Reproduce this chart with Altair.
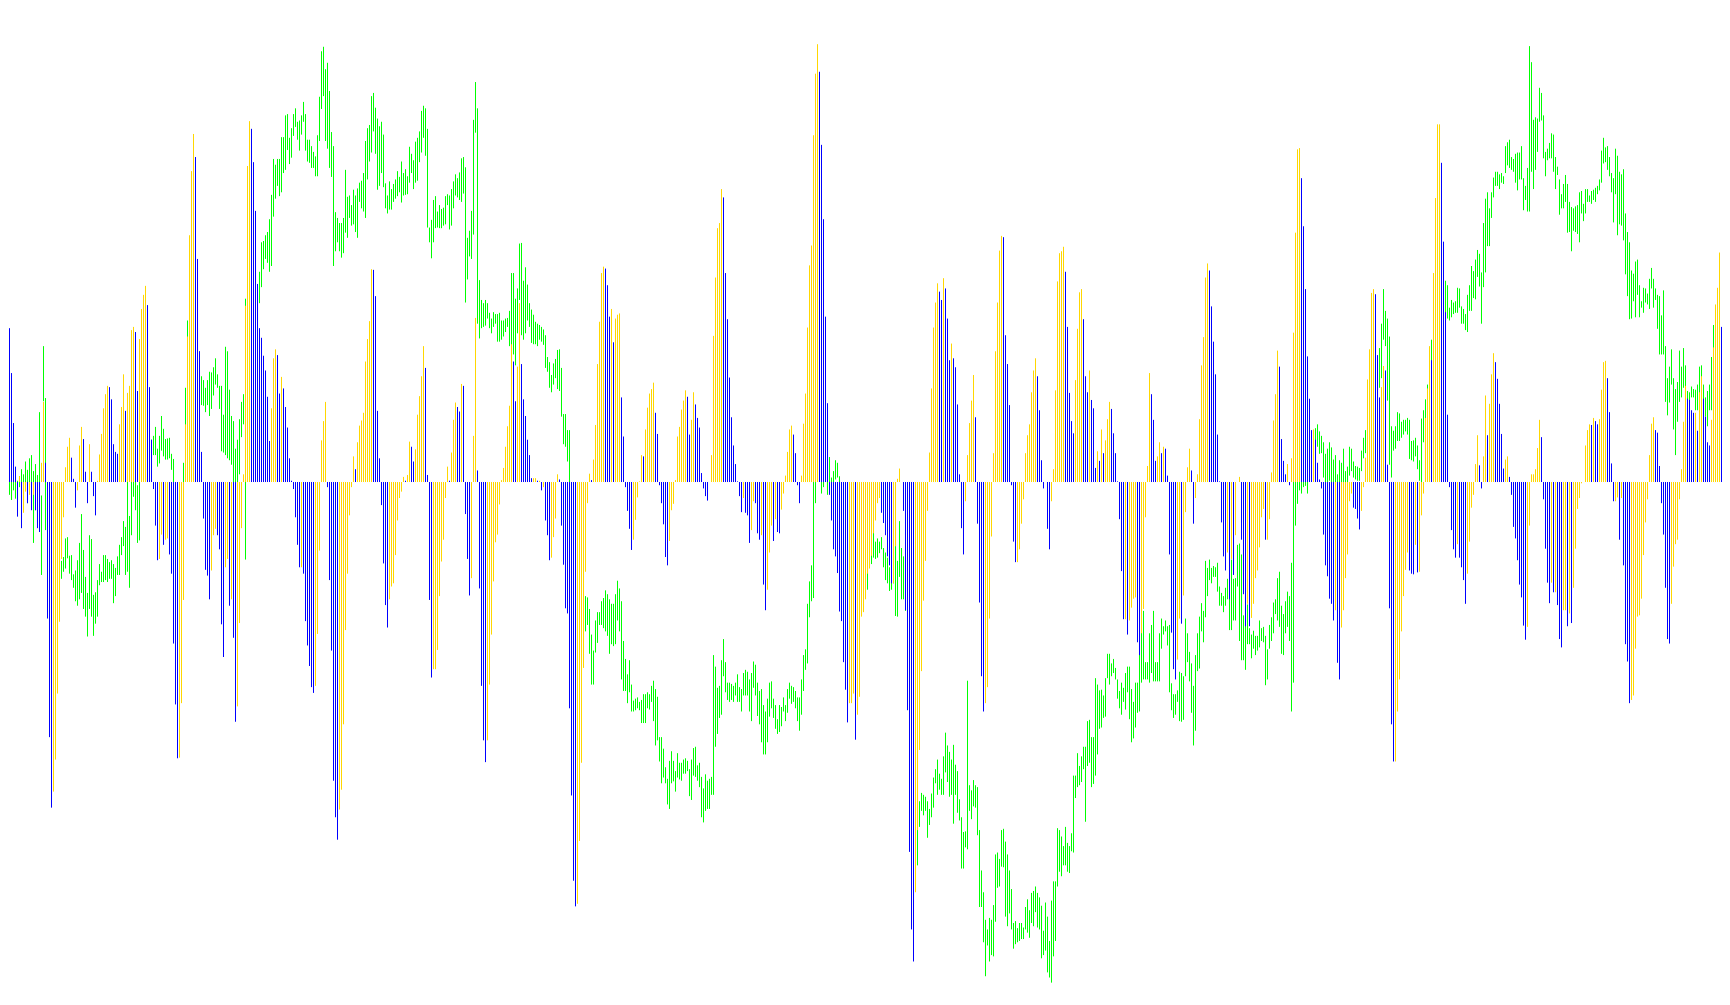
import altair as alt
import pandas as pd

# Oscillator histogram, signed, one value per session (three runs of sessions)
HIST_A = [385,387,385,342,240,170,92,24,-54,9,-72,-48,-15,-33,-20,-44,-20,-44,-72,-78,30,125,30,
-213,-398,-508,-483,-433,-330,-218,-120,-55,23,55,69,38,5,-40,-13,57,86,67,16,-33,59,16,-22,-52,2,43,75,115,137,150,148,129,59,47,44,90,117,168,111,139,150,237,242,234,142,223,270,292,306,276,148,66,-11,-68,-122,-120,-82,-98,-90,-88,-113,-143,-252,-347,-431,-430,-345,-184,90,227,385,485,543,507,348,204,47,-57,-137,-146,-183,-138,-83,-73,-83,-105,-222,-273,-133,-120,-193,-183,-243,-374,-350,-220,-72,12,275,493,563,551,499,423,309,240,225,197,174,133,64,115,193,207,198,138,164,146,117,85,37,2,-11,-55,-98,-133,-133,-143,-217,-255,-287,-320,-329,-318,-237,-107,65,95,125,-8,-153,-263,-466,-523,-558,-511,-480,-378,-231,-143,-52,-8,40,20,62,88,96,108,188,223,251,332,331,290,111,37,-36,-127,-192,-227,-183,-163,-158,-114,-60,-25,-15,8,2,11,63,55,32,51,105,134,165,212,178,11,-184,-305,-292,-292,-262,-178,-124,-90,-25,24,2,46,97,124,117,110,153,150,-50,-120,-177,-150,72,256,18,-166,-318,-403,-437,-403,-316,-238,-155,-94,-82,-35,3,22,55,87,119,215,188,126,180,279,184,129,103,66,42,6,6,6,2,2,-13,-8,-60,-83,-122,-118,-86,-57,12,4,-68,-129,-197,-205,-353,-489,-622,-662,-658,-560]
HIST_B = [-438,-290,-140,-33,13,3,35,89,184,250,326,336,333,307,258,270,218,255,261,263,132,71,-8,-45,-73,-106,-90,-59,-24,1,42,40,82,116,138,145,155,108,75,-5,-33,-66,-117,-130,-92,-44,-34,3,71,86,113,127,143,133,74,97,140,121,100,85,14,-10,-22,-29,0,42,228,319,396,404,457,444,326,254,163,101,57,28,1,-22,-47,-25,-48,-52,-95,-75,-30,-33,-80,-90,-83,-160,-200,-168,-110,-68,-92,-58,-78,-80,-43,-18,10,47,82,88,74,45,-5,-33,10,91,138,241,338,369,541,637,683,640,526,410,258,123,-20,-60,-105,-116,-142,-202,-217,-281,-324,-375,-345,-345,-330,-402,-363,-335,-210,-203,-183,-143,-135,-115,-80,-60,-33,-25,-48,-64,-83,-116,-130,-158,-158,-100,5,21,0,-45,-200,-356,-577,-698,-748,-640,-543,-418,-295,-185,-123,-45,46,146,241,280,310,297,284,318,302,255,190,216,193,179,121,12,-72,-113,-30,42,92,127,167,101,-65,-188,-303,-358,-345,-320,-213,-85,45,204,280,361,384,382,229,184,120,-5,-93,-125,-125,-105,-65,-27,45,73,90,140,174,193,165,112,34,-10,0,-73,-105,-30,20,143,313,357,360,367,328,242,139,95,76,159,239,296,301,254,165,140,174,128,115,22,48,33,82,45,65,98,125,114,76,45,1,-58,-139,-214,-214,-238,-216,-196,-182,-180,-250,-270,-236,-198,-55,25,170,137,97,33,40,62]
HIST_C = [45,55,52,10,-113,-235,-292,-308,-277,-213,-221,-177,-47,23,52,18,-65,-25,12,98,182,226,319,341,330,274,219,168,74,1,-63,-116,-138,-110,-183,-120,-145,-83,0,8,-90,-175,-225,-190,-225,-212,-190,-150,-138,-102,-55,-42,-90,-90,-58,15,96,137,205,180,67,33,12,28,-5,37,233,389,519,521,474,399,301,196,130,81,82,66,30,4,-10,-82,-130,-147,-182,-190,-216,-200,-282,-308,-227,-200,-150,-113,-30,-18,-40,-42,-57,-74,-45,-8,38,160,207,295,301,293,198,132,148,181,174,27,-197,-378,-436,-436,-358,-308,-233,-178,-137,-110,-138,-143,-144,-98,-141,-140,-52,-18,100,146,212,190,326,443,558,558,498,375,265,105,-8,-75,-105,-118,-97,-118,-133,-153,-190,-143,-93,-40,-20,28,73,26,-10,40,135,73,122,168,201,187,161,122,75,21,35,40,8,-20,-70,-88,-122,-160,-180,-224,-246,-226,-68,12,12,20,53,97,70,-27,-104,-157,-189,-157,-172,-172,-192,-245,-258,-200,-200,-225,-205,-220,-165,-104,-42,-25,-2,0,57,81,90,89,100,95,90,98,144,187,189,162,109,29,-30,-30,-24,-90,-25,-130,-253,-280,-345,-340,-333,-260,-210,-208,-182,-114,-63,-27,42,91,101,81,77,25,-33,-82,-165,-245,-252,-190,-132,-97,-90,-27,20,94,150,130,128,112,108,108,80,140,165,130,102,62,57,97,210,277,303,358,242,82,-30,-18,30]

# Floating price-range bars: (upper, lower) measured downwards from the chart's top reference
RANGE_A = [(752,785),(752,775),(752,763),(745,752),(752,772),(752,780),(752,765),(730,778),(750,795),(743,760),(732,770),(740,775),(720,752),(733,785),(715,760),(710,780),(735,847),(724,796),(741,800),(643,828),(773,897),(540,626),(621,827),
(830,900),(845,905),(850,900),(860,905),(865,905),(870,900),(870,905),(875,903),(869,892),(840,887),(838,871),(867,895),(866,905),(896,917),(890,938),(874,945),(847,935),(802,925),(858,950),(900,962),(925,993),(835,950),(841,962),(928,992),(924,973),(905,962),(880,913),(892,908),(866,908),(866,905),(872,908),(877,903),(874,903),(880,941),(886,930),(868,897),(850,897),(838,866),(813,852),(822,897),(752,892),(805,917),(752,835),(752,775),(752,796),(757,847),(752,843),(690,750),(690,745),(690,740),(695,745),(690,730),(686,712),(680,710),(666,710),(700,728),(680,723),(649,703),(669,712),(685,717),(684,717),(683,715),(708,733),(716,752),(760,800),(770,800),(765,800),(760,790),(722,752),(605,680),(500,600),(450,600),(400,500),(400,520),(420,560),(450,600),(548,610),(587,632),(593,633),(605,643),(593,632),(580,649),(581,638),(573,617),(559,600),(584,605),(602,638),(602,704),(647,706),(541,710),(548,715),(608,718),(649,725),(657,752),(700,752),(686,752),(654,740),(627,682),(615,662),(466,873),(440,520),(430,500),(400,480),(440,530),(460,540),(447,540),(424,473),(378,448),(376,420),(367,404),(362,410),(342,424),(304,415),(248,338),(257,310),(248,290),(248,306),(214,300),(214,270),(180,265),(178,234),(215,256),(200,246),(178,212),(169,198),(190,218),(188,235),(180,210),(159,190),(178,235),(218,252),(218,254),(228,262),(237,262),(244,275),(211,275),(151,220),(80,170),(73,150),(108,220),(98,232),(142,262),(206,276),(228,415),(331,392),(340,378),(348,392),(348,402),(340,395),(265,363),(307,371),(305,340),(320,352),(296,350),(305,362),(294,371),(285,315),(282,325),(270,330),(220,340),(200,280),(195,252),(150,238),(145,205),(168,240),(185,296),(197,290),(190,270),(210,292),(286,325),(305,333),(283,327),(295,327),(287,315),(280,310),(267,306),(276,300),(252,316),(270,305),(264,304),(275,303),(229,285),(240,270),(250,295),(221,285),(215,282),(205,253),(173,238),(165,215),(169,243),(201,355),(355,378),(343,403),(312,378),(306,356),(330,355),(320,356),(326,356),(324,352),(306,350),(303,320),(305,358),(295,352),(283,325),(272,305),(278,308),(269,312),(247,315),(245,302),(261,472),(371,436),(360,400),(329,404),(187,366),(128,207),(169,505),(437,528),(468,512),(473,510),(468,508),(473,497),(488,512),(497,520),(487,510),(490,505),(490,533),(488,533),(500,530),(500,525),(497,518),(496,510),(485,540),(426,545),(426,553),(466,570),(450,520),(380,468),(379,523),(438,530),(417,520),(444,500),(473,510),(483,535),(491,537),(502,537),(505,540),(507,530),(510,533),(514,538),(523,574),(557,580),(565,605),(585,612),(567,600),(560,590),(546,607),(545,610),(574,650),(646,693),(646,697),(671,720),(671,752),(760,850),(780,880),(790,890),(800,900),(800,950)]
RANGE_B = [(800,950),(820,950),(930,985),(932,975),(950,1020),(990,1068),(1015,1068),(968,1018),(955,1003),(955,975),(938,975),(933,980),(921,985),(927,992),(935,1020),(942,1005),(942,1008),(927,1005),(906,968),(918,985),(938,1060),(1000,1078),(1028,1078),(1052,1097),(1030,1080),(1068,1110),(1093,1110),(1090,1108),(1088,1105),(1095,1108),(1092,1128),(1083,1128),(1083,1128),(1080,1105),(1083,1107),(1070,1095),(1062,1125),(1075,1163),(1087,1155),(1150,1188),(1150,1222),(1168,1213),(1197,1222),(1215,1255),(1187,1262),(1172,1222),(1187,1219),(1203,1235),(1175,1213),(1190,1216),(1190,1218),(1185,1207),(1183,1207),(1187,1203),(1200,1242),(1185,1248),(1167,1210),(1165,1212),(1194,1218),(1190,1228),(1212,1275),(1230,1283),(1208,1265),(1218,1262),(1215,1262),(1212,1240),(1022,1240),(1040,1165),(1073,1145),(1070,1120),(1030,1115),(997,1055),(1033,1080),(1065,1092),(1065,1095),(1067,1092),(1070,1095),(1065,1085),(1052,1095),(1072,1095),(1075,1110),(1050,1085),(1045,1085),(1048,1085),(1060,1110),(1050,1125),(1032,1073),(1037,1085),(1065,1117),(1078,1130),(1075,1158),(1100,1177),(1110,1177),(1090,1158),(1065,1118),(1063,1105),(1090,1120),(1100,1137),(1122,1145),(1100,1142),(1103,1133),(1088,1110),(1100,1125),(1075,1112),(1065,1090),(1070,1098),(1072,1095),(1078,1105),(1088,1125),(1088,1140),(1060,1115),(1022,1078),(1013,1045),(942,1035),(907,963),(882,938),(752,933),(752,785),(700,752),(680,752),(752,770),(752,760),(720,752),(752,772),(713,752),(745,752),(735,752),(718,748),(722,745),(743,752),(760,900),(770,900),(780,900),(790,900),(790,900),(790,890),(790,880),(800,900),(800,900),(800,900),(800,900),(810,940),(810,930),(810,920),(820,880),(820,880),(825,870),(845,872),(840,870),(845,863),(838,857),(855,885),(862,905),(870,910),(885,922),(898,920),(882,910),(852,961),(875,962),(813,900),(855,935),(868,935),(888,953),(950,1073),(1108,1130),(1100,1300),(1150,1300),(1200,1300),(1250,1350),(1250,1290),(1237,1265),(1240,1272),(1243,1265),(1250,1307),(1262,1287),(1238,1275),(1213,1260),(1200,1222),(1185,1240),(1207,1232),(1215,1240),(1180,1240),(1143,1205),(1163,1220),(1173,1243),(1185,1240),(1162,1285),(1193,1240),(1203,1268),(1247,1280),(1275,1355),(1298,1355),(1297,1322),(1062,1325),(1225,1265),(1233,1278),(1217,1258),(1225,1260),(1228,1303),(1295,1415),(1358,1415),(1392,1470),(1435,1523),(1450,1475),(1432,1500),(1435,1490),(1412,1492),(1333,1438),(1330,1385),(1340,1383),(1295,1352),(1293,1353),(1313,1430),(1333,1445),(1358,1425),(1387,1450),(1440,1480),(1437,1473),(1448,1470),(1440,1468),(1440,1465),(1447,1465),(1415,1450),(1403,1455),(1420,1463),(1393,1440),(1390,1445),(1383,1423),(1393,1447),(1400,1450),(1413,1495),(1452,1490),(1408,1483),(1430,1517),(1468,1525),(1405,1533),(1375,1492),(1375,1468),(1292,1383),(1295,1360),(1305,1367),(1320,1350),(1290,1350),(1315,1360),(1320,1362),(1300,1328),(1210,1330),(1210,1245),(1175,1228),(1195,1225),(1180,1220),(1165,1200),(1165,1282),(1125,1195),(1123,1190),(1150,1228),(1150,1223),(1058,1210),(1068,1177),(1077,1137),(1076,1135),(1085,1120),(1058,1118),(1020,1058),(1020,1068),(1035,1055),(1028,1050),(1042,1060),(1060,1090),(1078,1105),(1065,1115),(1073,1095),(1050,1107),(1040,1080),(1040,1122),(1075,1158),(1095,1152),(1065,1135),(1065,1112),(992,1110),(930,1065),(953,1060),(1033,1060),(1033,1060),(988,1065),(975,1050),(953,1063),(1033,1063),(1033,1063),(988,1063),(975,1012)]
RANGE_C = [(965,995),(977,990),(968,985),(977,1007),(975,1080),(1066,1108),(1083,1120),(1083,1115),(1077,1095),(1048,1125),(1050,1126),(1055,1123),(965,1055),(988,1033),(1017,1063),(1035,1112),(1070,1163),(1022,1140),(988,1047),(962,1043),(941,985),(953,1002),(875,963),(886,930),(873,905),(886,910),(883,900),(885,900),(878,923),(915,945),(925,945),(930,955),(917,945),(903,935),(875,983),(873,983),(903,968),(902,968),(850,915),(848,1000),(865,1030),(960,1030),(950,1045),(943,1005),(980,1005),(990,1027),(984,1012),(992,1022),(992,1015),(968,1010),(980,1000),(978,1002),(992,1069),(1013,1060),(975,1012),(963,1000),(940,988),(935,958),(902,968),(892,978),(945,1020),(958,1022),(938,988),(923,978),(930,1000),(878,1110),(752,1065),(752,820),(752,786),(752,765),(752,770),(752,760),(752,758),(752,770),(700,752),(690,740),(672,700),(668,725),(662,697),(673,708),(680,707),(690,745),(708,752),(700,752),(690,750),(698,752),(717,752),(710,752),(740,752),(718,752),(722,752),(700,752),(735,752),(728,752),(697,742),(700,735),(720,745),(727,748),(728,750),(730,750),(703,735),(683,715),(671,707),(650,700),(620,680),(600,680),(600,670),(580,650),(560,620),(543,605),(505,590),(451,530),(485,540),(497,625),(525,725),(665,745),(672,703),(665,700),(643,688),(645,688),(658,683),(655,678),(655,673),(652,678),(655,716),(688,718),(687,720),(683,712),(695,732),(718,750),(653,752),(640,690),(623,685),(600,650),(570,640),(530,620),(520,600),(500,560),(480,550),(460,520),(450,500),(440,490),(438,490),(445,497),(480,500),(468,495),(472,490),(470,488),(449,488),(450,480),(478,505),(482,505),(490,515),(460,518),(445,485),(415,485),(423,465),(405,467),(390,432),(396,447),(425,505),(348,448),(310,425),(300,384),(325,384),(300,340),(277,308),(268,290),(268,290),(272,295),(270,285),(275,287),(228,270),(222,258),(218,262),(245,265),(248,268),(240,285),(238,297),(238,280),(228,280),(278,328),(290,312),(262,330),(72,330),(97,268),(187,295),(183,265),(185,237),(137,190),(145,188),(180,247),(237,275),(232,250),(223,247),(208,247),(210,268),(245,295),(260,273),(280,335),(303,325),(287,325),(273,315),(287,363),(315,362),(323,392),(325,360),(322,362),(320,365),(300,378),(298,333),(318,345),(295,333),(295,315),(305,315),(298,318),(296,312),(293,315),(290,303),(280,297),(235,285),(215,255),(230,253),(228,265),(245,275),(270,300),(278,347),(232,303),(243,367),(268,350),(272,352),(264,375),(333,428),(362,462),(378,498),(422,497),(427,470),(408,495),(405,460),(445,495),(470,480),(449,488),(450,472),(458,475),(435,482),(418,450),(435,480),(450,468),(460,513),(462,553),(492,553),(453,553),(540,627),(590,648),(572,628),(545,600),(590,670),(607,710),(596,658),(547,627),(572,620),(543,605),(570,610),(610,630),(612,625),(603,620),(607,620),(608,640),(600,640),(572,650),(570,650),(600,640),(620,650),(610,665),(600,640),(557,640),(507,582),(505,545),(540,580),(530,640),(590,650),(540,695),(600,650),(556,650),(525,600)]

SECTION = 290
ZERO_REF = 752

bars, ranges = [], []
prev = None
for k, (h_run, r_run) in enumerate([(HIST_A, RANGE_A), (HIST_B, RANGE_B), (HIST_C, RANGE_C)]):
    for j, v in enumerate(h_run):
        state = "up" if prev is None or v >= prev else "down"
        bars.append({"i": SECTION * k + j, "v": v, "base": 0, "state": state})
        prev = v
    for j, (a, b) in enumerate(r_run):
        ranges.append({"i": SECTION * k + j, "hi": ZERO_REF - a, "lo": ZERO_REF - b})

x_scale = alt.Scale(domain=[3.25, 860.25], nice=False, zero=False)
y_scale = alt.Scale(domain=[-795.6, 739.5], nice=False, zero=False)
x_enc = alt.X("i:Q", scale=x_scale, axis=None)

green = alt.Chart(pd.DataFrame(ranges)).mark_rule(strokeWidth=1, color="#00ff00", clip=True).encode(
    x=x_enc,
    y=alt.Y("lo:Q", scale=y_scale, axis=None),
    y2="hi:Q",
)
hist = alt.Chart(pd.DataFrame(bars)).mark_rule(strokeWidth=1, clip=True).encode(
    x=x_enc,
    y=alt.Y("base:Q", scale=y_scale, axis=None),
    y2="v:Q",
    color=alt.Color("state:N", scale=alt.Scale(domain=["up", "down"], range=["#ffd700", "#0000ff"]), legend=None),
)

chart = (green + hist).properties(
    width=1714, height=984, padding=0, autosize=alt.AutoSizeParams(type="none"), background="white"
).configure_view(stroke=None)

chart.save("out.html", embed_options={"renderer": "svg", "actions": False})
